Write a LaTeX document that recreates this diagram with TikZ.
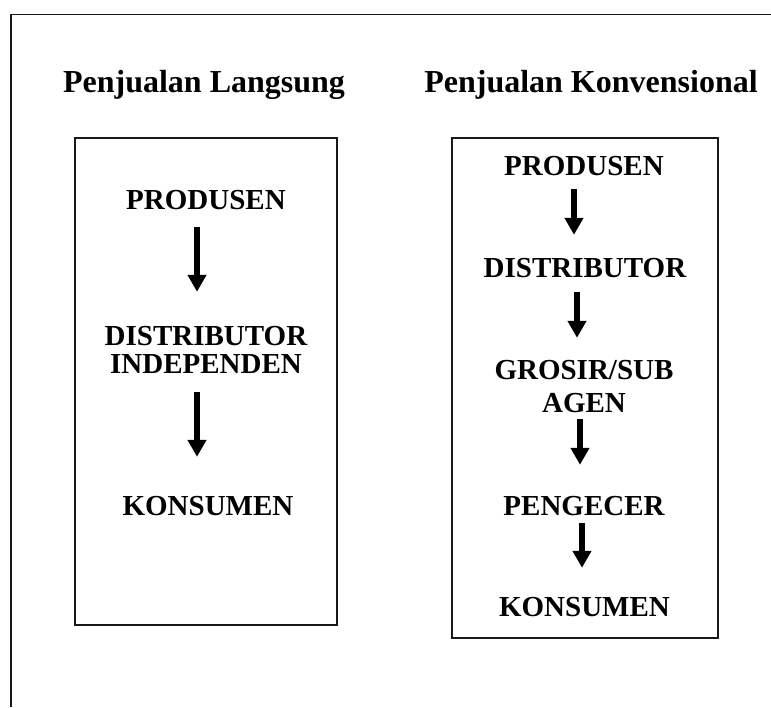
\documentclass[tikz,border=0pt]{standalone}
\usepackage{fontspec}
\setmainfont{Liberation Serif}
\usetikzlibrary{arrows.meta}
\tikzset{
  frameline/.style={line width=1.8pt, black!90},
  boxline/.style={line width=2pt, black!90},
  title/.style={font=\fontsize{32}{38}\selectfont\bfseries, inner sep=0pt, anchor=base},
  lbl/.style={font=\fontsize{29}{34}\selectfont\bfseries, inner sep=0pt, anchor=base, text height=19pt, text depth=0pt},
  arr/.style={line width=6pt, -{Triangle[width=18pt,length=17pt]}},
}
\begin{document}
\begin{tikzpicture}[x=1pt,y=-1pt]
\useasboundingbox (0,0) rectangle (771,707);
% outer frame
\draw[frameline] (10.7,707) -- (10.7,14.5) -- (771,14.5);
% titles
\node[title] (t1) at (204,92) {Penjualan Langsung};
\node[title] (t2) at (591,92) {Penjualan Konvensional};
% boxes
\draw[boxline] (75,138) rectangle (337,625);
\draw[boxline] (451.5,138) rectangle (718,638);
% left box content
\node[lbl] (lp) at (206,209) {PRODUSEN};
\node[lbl] (ld1) at (206,345) {DISTRIBUTOR};
\node[lbl] (ld2) at (206,373) {INDEPENDEN};
\node[lbl] (lk) at (208,515) {KONSUMEN};
\draw[arr, shorten <=18pt, shorten >=34pt] ([xshift=-9pt]lp.south) -- ([xshift=-9pt]lp.south |- ld1.north);
\draw[arr, shorten <=19pt, shorten >=39pt] ([xshift=-9pt]ld2.south) -- ([xshift=-9pt]ld2.south |- lk.north);
% right box content
\node[lbl] (rp) at (584,175) {PRODUSEN};
\node[lbl] (rd) at (585,277) {DISTRIBUTOR};
\node[lbl] (rg1) at (584,379) {GROSIR/SUB};
\node[lbl] (rg2) at (584,412) {AGEN};
\node[lbl] (rpe) at (584,515) {PENGECER};
\node[lbl] (rk) at (584.5,616) {KONSUMEN};
\draw[arr, shorten <=14pt, shorten >=23pt] ([xshift=-10pt]rp.south) -- ([xshift=-10pt]rp.south |- rd.north);
\draw[arr, shorten <=15pt, shorten >=22pt] ([xshift=-8pt]rd.south) -- ([xshift=-8pt]rd.south |- rg1.north);
\draw[arr, shorten <=7pt, shorten >=31pt] ([xshift=-4pt]rg2.south) -- ([xshift=-4pt]rg2.south |- rpe.north);
\draw[arr, shorten <=8pt, shorten >=29pt] ([xshift=-2pt]rpe.south) -- ([xshift=-2pt]rpe.south |- rk.north);
\end{tikzpicture}
\end{document}
